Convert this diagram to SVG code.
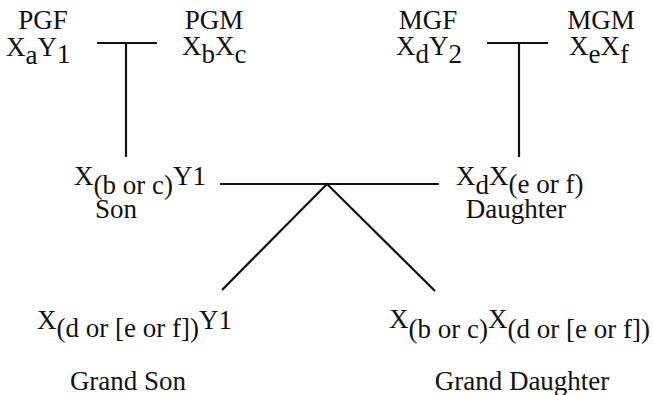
<svg xmlns="http://www.w3.org/2000/svg" width="653" height="395" viewBox="0 0 653 395">
<style>
text{font-family:"Liberation Serif","Times New Roman",serif;font-size:27px;fill:#111}
.c{text-anchor:middle}
line,polyline{stroke:#111;stroke-width:2.2;fill:none}
</style>
<rect width="653" height="395" fill="#fff"/>
<g id="connectors">
<line x1="97" y1="43" x2="157" y2="43"/>
<line x1="126" y1="43" x2="126" y2="157"/>
<line x1="487" y1="43" x2="548" y2="43"/>
<line x1="519" y1="43" x2="519" y2="157"/>
<line x1="220" y1="184" x2="439" y2="184"/>
<polyline points="222,290 327,184 435,291"/>
</g>
<g id="pgf">
<text class="c" x="43" y="29">PGF</text>
<text x="6" y="56">X<tspan dy="8">a</tspan><tspan dy="-8">Y</tspan><tspan dy="7">1</tspan></text>
</g>
<g id="pgm">
<text class="c" x="214" y="29">PGM</text>
<text x="182" y="55">X<tspan dy="8">b</tspan><tspan dy="-8">X</tspan><tspan dy="8">c</tspan></text>
</g>
<g id="mgf">
<text class="c" x="428" y="29">MGF</text>
<text x="396" y="55">X<tspan dy="8">d</tspan><tspan dy="-8">Y</tspan><tspan dy="8">2</tspan></text>
</g>
<g id="mgm">
<text class="c" x="601" y="29">MGM</text>
<text x="569" y="55">X<tspan dy="8">e</tspan><tspan dy="-8">X</tspan><tspan dy="8">f</tspan></text>
</g>
<g id="son">
<text x="74" y="185">X<tspan dy="9">(b or c)</tspan><tspan dy="-9">Y1</tspan></text>
<text class="c" x="116" y="218">Son</text>
</g>
<g id="daughter">
<text x="456" y="185">X<tspan dy="9">d</tspan><tspan dy="-9">X</tspan><tspan dy="8">(e or f)</tspan></text>
<text class="c" x="516" y="218">Daughter</text>
</g>
<g id="grandson">
<text x="37" y="329">X<tspan dy="8">(d or [e or f])</tspan><tspan dy="-8">Y1</tspan></text>
<text class="c" x="128" y="390">Grand Son</text>
</g>
<g id="granddaughter">
<text x="389" y="328">X<tspan dy="10">(b or c)</tspan><tspan dy="-10">X</tspan><tspan dy="10">(d or [e or f])</tspan></text>
<text class="c" x="522" y="390">Grand Daughter</text>
</g>
</svg>
